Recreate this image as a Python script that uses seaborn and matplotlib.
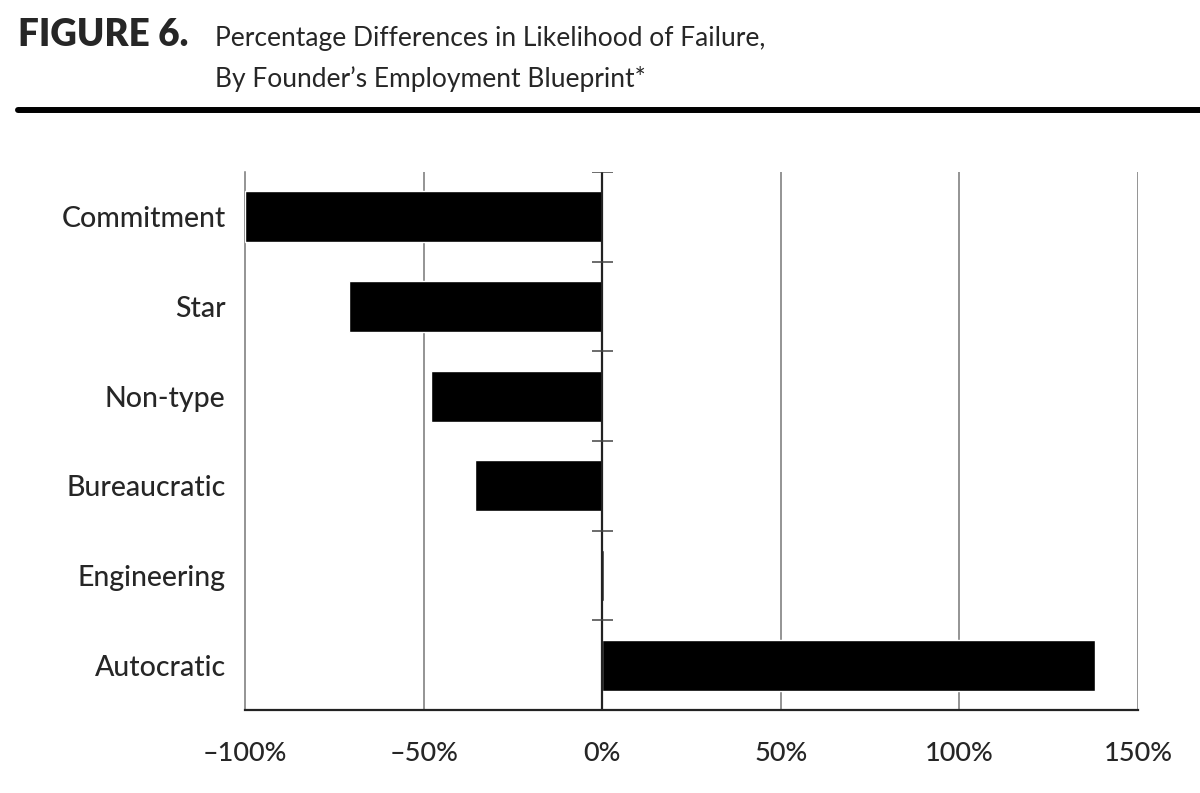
import matplotlib
matplotlib.use("Agg")
import matplotlib.pyplot as plt
import seaborn as sns

categories = ["Commitment", "Star", "Non-type", "Bureaucratic", "Engineering", "Autocratic"]
pct_diff = [-100, -71, -48, -35.5, 0.6, 138]
x_ticks = [-100, -50, 0, 50, 100, 150]
x_labels = ["\u2013100%", "\u201350%", "0%", "50%", "100%", "150%"]

sns.set_style("white")
plt.rcParams["font.family"] = ["Lato", "DejaVu Sans"]

fig = plt.figure(figsize=(12, 7.93), dpi=100)
ax = fig.add_axes([0.2042, 0.1047, 0.7442, 0.6784])

sns.barplot(x=pct_diff, y=categories, color="black", saturation=1,
            width=0.57, orient="h", ax=ax, zorder=3)

ax.set_xlim(-100, 150)
ax.set_ylim(5.5, -0.5)
ax.set_xticks(x_ticks)
ax.set_xticklabels(x_labels, fontsize=19.5, fontweight="medium")
for lab in ax.get_yticklabels():
    lab.set_fontsize(20.5)
    lab.set_fontweight("medium")
ax.tick_params(axis="x", length=0, pad=22)
ax.tick_params(axis="y", length=0, pad=14)
ax.set_xlabel("")
ax.set_ylabel("")

# grid lines
for t in [-50, 50, 100, 150]:
    ax.axvline(t, color="#777777", lw=1.1, zorder=1)
ax.axvline(0, color="#222222", lw=1.6, zorder=4)

# small ticks on zero line at category boundaries
bounds = [i - 0.5 for i in range(len(categories))]
ax.hlines(bounds, -3, 3, color="#444444", lw=1.1, zorder=4)

for s in ["top", "right"]:
    ax.spines[s].set_visible(False)
ax.spines["left"].set_color("#777777")
ax.spines["left"].set_linewidth(1.1)
ax.spines["bottom"].set_color("#222222")
ax.spines["bottom"].set_linewidth(1.6)

# title block
fig.text(0.015, 1 - 46 / 793, "FIGURE 6.", fontsize=26.5, fontweight="heavy",
         va="baseline", ha="left")
fig.text(0.179, 1 - 46 / 793, "Percentage Differences in Likelihood of Failure,",
         fontsize=19, fontweight="normal", va="baseline", ha="left")
fig.text(0.179, 1 - 87 / 793, "By Founder\u2019s Employment Blueprint*",
         fontsize=19, fontweight="normal", va="baseline", ha="left")
fig.add_artist(plt.Line2D([0.015, 1.0], [1 - 110 / 793, 1 - 110 / 793],
                          color="black", lw=4.3, transform=fig.transFigure))

fig.savefig("out.png", dpi=100)
plt.close()
